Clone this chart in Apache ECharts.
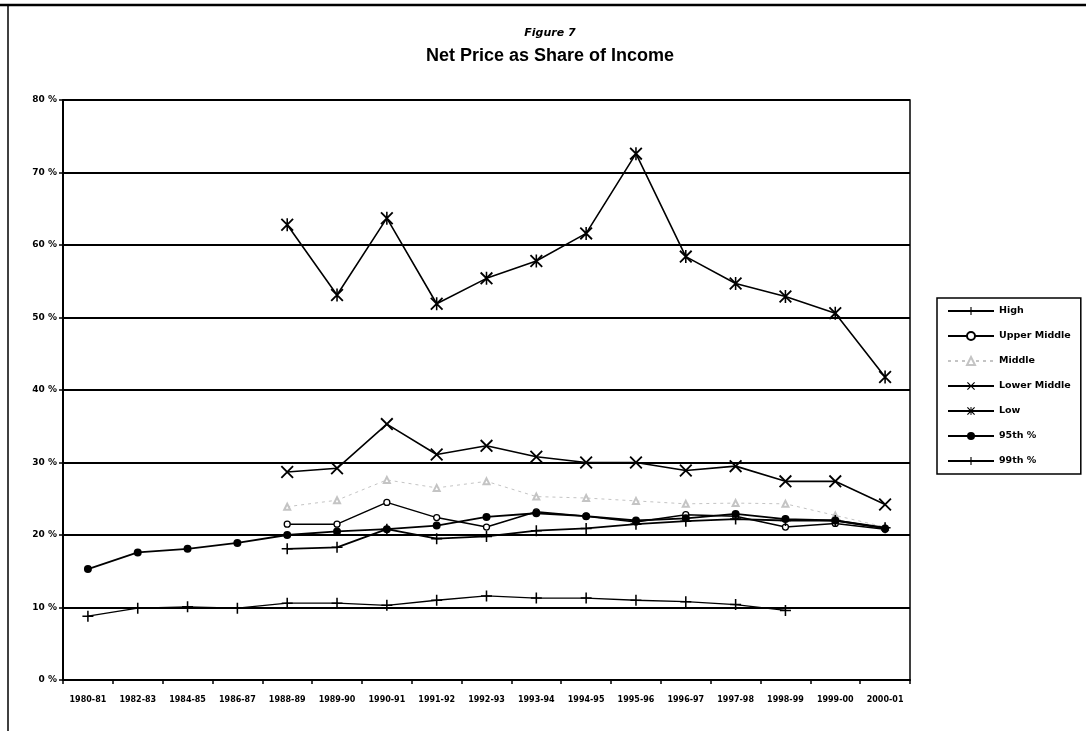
<!DOCTYPE html>
<html>
<head>
<meta charset="utf-8">
<style>
  html, body { margin: 0; padding: 0; background: #fff; }
  #chart { width: 1086px; height: 731px; }
</style>
<script src="https://cdn.jsdelivr.net/npm/echarts@6/dist/echarts.min.js"></script>
</head>
<body>
<div id="chart"></div>
<script>
// School years on the horizontal axis
const years = ['1980-81', '1982-83', '1984-85', '1986-87', '1988-89', '1989-90', '1990-91',
  '1991-92', '1992-93', '1993-94', '1994-95', '1995-96', '1996-97', '1997-98', '1998-99',
  '1999-00', '2000-01'];

// Net price as a percentage of family income, by income group
const high = [8.8, 9.9, 10.1, 9.9, 10.6, 10.6, 10.3, 11.0, 11.6, 11.3, 11.3, 11.0, 10.8, 10.4, 9.6, null, null];
const upperMiddle = [null, null, null, null, 21.5, 21.5, 24.5, 22.4, 21.1, 23.2, 22.6, 21.8, 22.8, 22.6, 21.1, 21.6, 20.8];
const middle = [null, null, null, null, 23.9, 24.8, 27.6, 26.5, 27.4, 25.3, 25.1, 24.7, 24.3, 24.4, 24.3, 22.7, 21.1];
const lowerMiddle = [null, null, null, null, 28.7, 29.2, 35.3, 31.1, 32.3, 30.8, 30.0, 30.0, 28.9, 29.5, 27.4, 27.4, 24.2];
const low = [null, null, null, null, 62.8, 53.1, 63.7, 51.9, 55.4, 57.8, 61.6, 72.6, 58.4, 54.7, 52.9, 50.6, 41.8];
const p95 = [15.3, 17.6, 18.1, 18.9, 20.0, 20.5, 20.8, 21.3, 22.5, 23.0, 22.6, 22.0, 22.3, 22.9, 22.2, 22.0, 20.9];
const p99 = [null, null, null, null, 18.1, 18.3, 20.8, 19.5, 19.8, 20.6, 20.9, 21.5, 21.9, 22.2, 22.0, 22.0, 21.0];

// Y axis tick values (percent)
const yTicks = [0, 10, 20, 30, 40, 50, 60, 70, 80];

// Marker shapes
const PLUS = 'path://M4.3,0h1.4v4.3h4.3v1.4h-4.3v4.3h-1.4v-4.3h-4.3v-1.4h4.3z';
const CROSS = 'path://M0,1L1,0L10,9L9,10Z M9,0L10,1L1,10L0,9Z';
const STAR = 'path://M0,1L1,0L10,9L9,10Z M9,0L10,1L1,10L0,9Z M4.4,0L5.6,0L5.6,10L4.4,10Z';

const AXIS_FONT = '"DejaVu Sans", Verdana, sans-serif';

function lineSeries(name, data, opts) {
  return Object.assign({
    name: name,
    type: 'line',
    data: data,
    connectNulls: false,
    animation: false,
    lineStyle: { color: '#000', width: 1.5 },
    itemStyle: { color: '#000' },
    symbolKeepAspect: true,
    z: 3
  }, opts);
}

const chart = echarts.init(document.getElementById('chart'), null, { renderer: 'canvas' });

chart.setOption({
  backgroundColor: '#fff',
  animation: false,
  graphic: [
    // outer frame
    { type: 'line', shape: { x1: 0, y1: 5, x2: 1086, y2: 5 }, style: { stroke: '#000', lineWidth: 2.5 } },
    { type: 'line', shape: { x1: 8, y1: 5, x2: 8, y2: 731 }, style: { stroke: '#000', lineWidth: 1.5 } },
    // titles
    { type: 'text', x: 550, y: 33, style: { text: 'Figure 7', font: 'italic bold 11px "DejaVu Sans", sans-serif', fill: '#000', textAlign: 'center', textVerticalAlign: 'middle' } },
    { type: 'text', x: 550, y: 56, style: { text: 'Net Price as Share of Income', font: 'bold 18px "Liberation Sans", Arial, sans-serif', fill: '#000', textAlign: 'center', textVerticalAlign: 'middle' } }
  ],
  grid: {
    left: 63, right: 176, top: 100, bottom: 51,
    show: true, borderColor: '#000', borderWidth: 1.5
  },
  legend: {
    orient: 'vertical',
    left: 937, top: 298,
    padding: [8, 10, 8, 10],
    itemGap: 15,
    itemWidth: 46,
    itemHeight: 10,
    borderColor: '#000',
    borderWidth: 1.5,
    textStyle: { fontFamily: AXIS_FONT, fontWeight: 'bold', fontSize: 9.5, color: '#000' },
    data: ['High', 'Upper Middle', 'Middle', 'Lower Middle', 'Low', '95th %', '99th %']
  },
  xAxis: {
    type: 'category',
    data: years,
    boundaryGap: true,
    axisLine: { lineStyle: { color: '#000', width: 2 } },
    axisTick: { show: true, length: 4, lineStyle: { color: '#000', width: 1.5 } },
    axisLabel: { interval: 0, margin: 16, fontFamily: AXIS_FONT, fontWeight: 'bold', fontSize: 8, color: '#000' },
    splitLine: { show: false }
  },
  yAxis: {
    type: 'value',
    min: yTicks[0], max: yTicks[yTicks.length - 1], interval: 10,
    axisLine: { show: true, lineStyle: { color: '#000', width: 2 } },
    axisTick: { show: true, length: 4, lineStyle: { color: '#000', width: 1.5 } },
    axisLabel: { margin: 6, fontFamily: AXIS_FONT, fontWeight: 'bold', fontSize: 9, color: '#000',
      formatter: v => v + ' %' },
    splitLine: { show: true, lineStyle: { color: '#000', width: 2 } }
  },
  series: [
    lineSeries('High', high, { symbol: PLUS, symbolSize: 11, lineStyle: { color: '#000', width: 1.3 } }),
    lineSeries('Upper Middle', upperMiddle, { symbol: 'circle', symbolSize: 6,
      itemStyle: { color: '#fff', borderColor: '#000', borderWidth: 1.3 } }),
    lineSeries('Middle', middle, { symbol: 'emptyTriangle', symbolSize: 6,
      lineStyle: { color: '#c4c4c4', width: 1, type: [3, 4] },
      itemStyle: { color: '#c4c4c4', borderColor: '#c4c4c4', borderWidth: 0.8 }, z: 2 }),
    lineSeries('Lower Middle', lowerMiddle, { symbol: CROSS, symbolSize: 13, lineStyle: { color: '#000', width: 1.6 } }),
    lineSeries('Low', low, { symbol: STAR, symbolSize: 13, lineStyle: { color: '#000', width: 1.6 } }),
    lineSeries('95th %', p95, { symbol: 'circle', symbolSize: 8, lineStyle: { color: '#000', width: 1.8 } }),
    lineSeries('99th %', p99, { symbol: PLUS, symbolSize: 11, lineStyle: { color: '#000', width: 1.8 } })
  ]
});
</script>
</body>
</html>
